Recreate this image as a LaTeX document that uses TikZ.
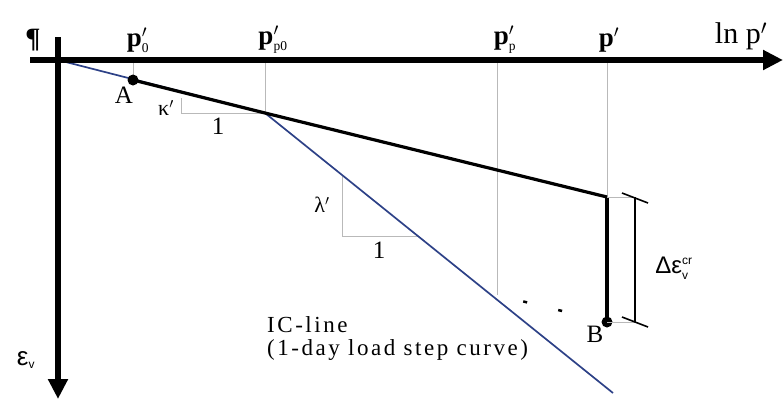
\documentclass[tikz,border=0pt]{standalone}
\usepackage{fontspec}
\setmainfont{Liberation Serif}
\newfontfamily\arialfont{Liberation Sans}
\newfontfamily\spacedserif[LetterSpace=11]{Liberation Serif}
\usetikzlibrary{arrows.meta,positioning}
\definecolor{icblue}{RGB}{45,65,135}

\tikzset{
  axis/.style={line width=5.5pt, -{Triangle[length=20pt,width=19pt]}},
  guide/.style={gray!55, line width=0.9pt},
  icline/.style={icblue, line width=1.7pt},
  kline/.style={black, line width=3.2pt},
  pdot/.style={circle, fill=black, inner sep=0pt, minimum size=11pt},
  plbl/.style={font=\bfseries\fontsize{27}{30}\selectfont, inner sep=1pt},
  lbl/.style={font=\fontsize{25}{28}\selectfont, inner sep=1pt},
  greek/.style={font=\fontsize{22}{24}\selectfont, inner sep=1pt},
}
\newcommand{\tinytxt}[1]{\mbox{\fontsize{12}{12}\selectfont #1}}

\begin{document}
\begin{tikzpicture}[x=1pt, y=-1pt, >=Stealth]
      \useasboundingbox (0,0) rectangle (783,400);
      \coordinate (O) at (58,60);
      \coordinate (A) at (133,80);
      \coordinate (K) at (265,113);
      \coordinate (C) at (607,197);
      \coordinate (B) at (607,322);
      \coordinate (P) at (497,295);
      \coordinate (E) at (613,393);

      % guide lines from the axis
      \draw[guide] (133,60) -- (A);
      \draw[guide] (265,60) -- (K);
      \draw[guide] (497,60) -- (P);
      \draw[guide] (607,60) -- (C);

      % slope triangles
      \draw[guide] (181,98) -- (181,113) -- (K);
      \draw[guide] (342,175) -- (342,236) -- (418,236);

      % lines
      \draw[icline] (O) -- (K) -- (E);
      \draw[kline] (A) -- (K) -- (C);
      \draw[black, line width=4.5pt] (C) -- (B);
      \draw[line width=2.5pt, dash pattern=on 4pt off 32pt, dash phase=9pt, shorten >=30pt] (P) -- (B);
      \node[pdot] (a) at (A) {};
      \node[pdot] (b) at (B) {};

      % axes
      \draw[axis] (30,60) -- (783,60);
      \draw[axis] (58,37) -- (58,399);

      % dimension bar
      \draw[guide] (C) -- (635,197);
      \draw[guide] (B) -- (635,322);
      \draw[line width=1.6pt] (635,197) -- (635,322);
      \draw[line width=1.6pt] (622,193) -- (648,203);
      \draw[line width=1.6pt] (622,317) -- (648,327);

      % labels
      \node[font=\bfseries\fontsize{28}{30}\selectfont, inner sep=0pt] (para) at (33,40) {¶};
      \node[plbl] (p0) at (138,40) {p$'_{\scriptscriptstyle\mathrm{0}}$};
      \node[plbl] (pp0) at (273,40) {p$'_{\scriptscriptstyle\mathrm{p0}}$};
      \node[plbl] (pp) at (505,40) {p$'_{\scriptscriptstyle\mathrm{p}}$};
      \node[plbl] (p) at (609,40) {p$'$};
      \node[font=\fontsize{30}{32}\selectfont, inner sep=1pt] (lnp) at (741,36) {ln p$'$};
      \node[lbl] (la) at (124,95) {A};
      \node[lbl] (lb) at (595,334) {B};
      \node[greek] (kappa) at (166,108) {κ$'$};
      \node[lbl] (k1) at (218,126) {1};
      \node[greek] (lam) at (322,205) {λ$'$};
      \node[lbl] (l1) at (379,250) {1};
      \node[font=\arialfont\fontsize{24}{26}\selectfont, inner sep=0pt] (deps) at (674,268) {Δε$^{\tinytxt{cr}}_{\tinytxt{v}}$};
      \node[font=\spacedserif\fontsize{23}{23}\selectfont, align=left, anchor=north west, inner sep=0pt] (ic) at (267,316) {IC-line\\(1-day load step curve)};
      \node[font=\arialfont\fontsize{26}{28}\selectfont, inner sep=0pt] (eps) at (26,360) {ε$_{\tinytxt{v}}$};
\end{tikzpicture}
\end{document}
